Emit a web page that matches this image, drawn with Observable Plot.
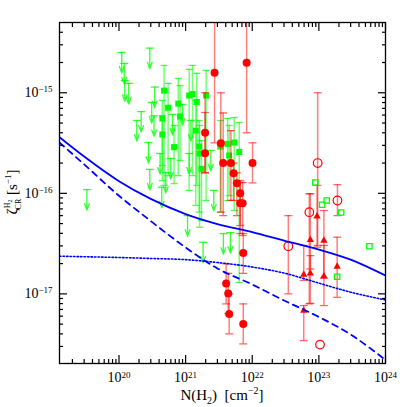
<!DOCTYPE html>
<html><head><meta charset="utf-8">
<script src="https://cdn.jsdelivr.net/npm/d3@7"></script>
<script src="https://cdn.jsdelivr.net/npm/@observablehq/plot@0.6"></script>
<style>body{margin:0;background:#fff}</style>
</head><body><div id="chart"></div>
<script>
// ---- data ----
// green upper limits (value at top bar)
const greenLimN = [3.3e19,1.1e20,1.2e20,1.22e20,1.4e20,1.85e20,2.15e20,2.77e20,2.9e20,2.9e20,3.1e20,3.36e20,3.44e20,4.14e20,4.39e20,5.04e20,5.99e20,6.35e20,1.07e21,1.13e21,1.83e21,2.39e21,2.65e21,3.69e21,4.7e21,8.98e20,1.2e21];
const greenLimZ = [1.09e-16,2.52e-15,1.96e-15,1.32e-15,1.24e-15,5.3e-16,6.5e-16,3.2e-16,2.78e-15,1.73e-16,8.0e-16,5.9e-16,1.14e-15,2.49e-16,1.15e-16,1.61e-16,2.22e-16,6.1e-16,6.0e-17,2.49e-16,3.26e-17,2.67e-16,1.07e-16,3.98e-17,4.07e-17,7.65e-16,5.3e-16];
// green detections (filled squares)
const greenDetN = [4.75e20,5.46e20,4.47e20,4.47e20,6.71e20,7.76e20,8.26e20,1.13e21,1.27e21,1.47e21,1.42e21,1.6e21,1.62e21,1.73e21,2.03e21,3.32e21,4.27e21,4.51e21,5.36e21,6.38e21];
const greenDetZ = [1.05e-15,7.1e-16,5.55e-16,3.85e-16,2.88e-16,7.8e-16,5.8e-16,9.4e-16,9.7e-16,8.1e-16,4.2e-16,2.92e-16,2.49e-16,1.75e-16,9.4e-16,2.92e-16,3.1e-16,2.38e-16,3.2e-16,2.58e-16];
const greenDetHi = [1.87e-15,1.24e-15,8.4e-16,5.9e-16,4.73e-16,1.39e-15,1.18e-15,1.71e-15,1.87e-15,1.56e-15,8.4e-16,5.3e-16,4.73e-16,3.35e-16,1.67e-15,5.3e-16,5.55e-16,4.73e-16,5.68e-16,5.06e-16];
const greenDetLo = [1.2e-16,1.5e-16,1.89e-16,1.34e-16,1.25e-16,1.5e-16,2.12e-16,1.07e-16,1.5e-16,1.2e-16,7.57e-17,6.5e-17,4.6e-17,5.36e-17,8.48e-17,6.5e-17,8.48e-17,9.5e-17,6.75e-17,1.3e-17];
// green open squares
const greenOpenN = [8.85e22,1.12e23,1.31e23,2.16e23,5.74e23,1.88e23];
const greenOpenZ = [1.28e-16,7.69e-17,8.48e-17,6.44e-17,2.98e-17,1.48e-17];
// red filled circles
const redDotN = [1.96e21,1.96e21,2.72e21,8.24e21,3.38e21,3.66e21,4.78e21,5.25e21,5.89e21,6.6e21,6.6e21,7.18e21,1.01e22,7.33e21,4.06e21,4.36e21,4.51e21,7.33e21];
const redDotZ = [4.0e-16,2.5e-16,1.58e-15,1.99e-15,3.15e-16,2.0e-16,2.0e-16,1.58e-16,1.26e-16,1.0e-16,7.96e-17,7.96e-17,2.0e-16,2.55e-17,1.27e-17,1.01e-17,6.32e-18,5.02e-18];
const redDotHi = [1e-15,6.37e-16,8e-15,8e-15,1e-15,6.3e-16,4.2e-16,2.0e-16,1.6e-16,1.34e-16,1.28e-16,1.28e-16,3.18e-16,3.98e-17,1.99e-17,1.6e-17,1.0e-17,7.95e-18];
const redDotLo = [1.6e-16,1.6e-16,3.18e-16,4.0e-16,6.5e-17,6.0e-17,8.5e-17,8.5e-17,6.0e-17,4.79e-17,3.98e-17,3.8e-17,1.27e-16,1.6e-17,7.95e-18,6.37e-18,4.0e-18,3.18e-18];
// red open circles
const redOpenN = [9.6e22,7.19e22,1.9e23,3.48e22,1.04e23];
const redOpenZ = [2.0e-16,6.49e-17,8.48e-17,2.98e-17,3.13e-18];
const redOpenHi = [1e-15,9.9e-17,1.22e-16,6.0e-17,null];
const redOpenLo = [3.03e-17,7.95e-18,6.0e-17,1.0e-17,null];
// red triangles
const redTriN = [9.4e22,7.45e22,7.45e22,1.19e23,1.19e23,5.93e22,5.93e22,1.88e23];
const redTriZ = [5.91e-17,3.44e-17,1.6e-17,3.39e-17,1.5e-17,1.55e-17,6.82e-18,1.87e-17];
const redTriHi = [1.2e-16,9.9e-17,2.4e-17,6.75e-17,3.03e-17,3.03e-17,7.65e-18,3.66e-17];
const redTriLo = [2.91e-17,1.77e-17,8.05e-18,1.43e-17,7.65e-18,1.36e-17,3.43e-18,9.25e-18];
// model curves
const curveN = [1.28e19,3e19,1e20,3e20,1e21,3e21,1e22,3e22,1e23,3e23,1e24];
const solidZ = [3.61e-16,2.32e-16,1.32e-16,8.8e-17,6.22e-17,4.95e-17,4.12e-17,3.39e-17,2.76e-17,2.19e-17,1.52e-17];
const dashedZ = [3.2e-16,1.94e-16,9.46e-17,5.3e-17,2.89e-17,1.79e-17,1.24e-17,8.6e-18,5.89e-18,3.94e-18,2.2e-18];
const dottedZ = [2.37e-17,2.34e-17,2.30e-17,2.25e-17,2.19e-17,2.05e-17,1.85e-17,1.61e-17,1.28e-17,1.04e-17,8.7e-18];
// ticks
const xMajor = [1e20,1e21,1e22,1e23,1e24];
const yMajor = [1e-17,1e-16,1e-15];
const mult = [2,3,4,5,6,7,8,9];
const xDomain = [1.28e19, 1e24], yDomain = [2.03e-18, 5e-15];

// ---- build ----
const zip = (N, Z, Hi, Lo) => N.map((n, i) => ({N: n, Z: Z[i], Hi: Hi ? Hi[i] : null, Lo: Lo ? Lo[i] : null}));
const greenLim = zip(greenLimN, greenLimZ);
const greenDet = zip(greenDetN, greenDetZ, greenDetHi, greenDetLo);
const greenOpen = zip(greenOpenN, greenOpenZ);
const redDot = zip(redDotN, redDotZ, redDotHi, redDotLo);
const redOpen = zip(redOpenN, redOpenZ, redOpenHi, redOpenLo);
const redTri = zip(redTriN, redTriZ, redTriHi, redTriLo);
const curves = curveN.map((n, i) => ({N: n, s: solidZ[i], d: dashedZ[i], o: dottedZ[i]}));
const minors = (lo, hi, d0, d1) => { const out = []; for (let d = d0; d <= d1; d++) for (const m of mult) { const v = m * Math.pow(10, d); if (v > lo && v < hi) out.push(v); } return out; };
const xMinor = minors(...xDomain, 19, 23);
const yMinor = minors(...yDomain, -18, -15);

const hline = {draw(ctx, size) { const r = Math.sqrt(size / Math.PI); ctx.moveTo(-r, 0); ctx.lineTo(r, 0); }};
const G = "#00ff00", R = "#ff0000", B = "#0000ff";
const fmtExp = d => "10^" + String(Math.round(Math.log10(d))).replace("-", "−");
const blank = () => "";
const serif = "'Liberation Serif', 'DejaVu Serif', serif";

const tickAxes = [];
for (const a of ["bottom", "top"]) {
  tickAxes.push(Plot.axisX({ticks: xMajor, anchor: a, tickSize: -8, tickFormat: blank, label: null, strokeWidth: 1.2}));
  tickAxes.push(Plot.axisX({ticks: xMinor, anchor: a, tickSize: -4, tickFormat: blank, label: null, strokeWidth: 1.2}));
}
for (const a of ["left", "right"]) {
  tickAxes.push(Plot.axisY({ticks: yMajor, anchor: a, tickSize: -8, tickFormat: blank, label: null, strokeWidth: 1.2}));
  tickAxes.push(Plot.axisY({ticks: yMinor, anchor: a, tickSize: -4, tickFormat: blank, label: null, strokeWidth: 1.2}));
}

const svg = Plot.plot({
  width: 407, height: 407,
  marginLeft: 59, marginRight: 22, marginTop: 22, marginBottom: 44,
  x: {type: "log", domain: xDomain},
  y: {type: "log", domain: yDomain},
  style: {fontFamily: serif, fontSize: "14px", color: "black", background: "white"},
  marks: [
    // error bars
    Plot.ruleX(greenDet, {x: "N", y1: "Lo", y2: "Hi", stroke: G, strokeOpacity: 0.55, strokeWidth: 1.5, clip: true}),
    Plot.dot(greenDet, {x: "N", y: "Hi", symbol: hline, r: 3.5, stroke: G, strokeOpacity: 0.7, strokeWidth: 1.3, clip: true}),
    Plot.dot(greenDet, {x: "N", y: "Lo", symbol: hline, r: 3.5, stroke: G, strokeOpacity: 0.7, strokeWidth: 1.3, clip: true}),
    Plot.arrow(greenLim, {x1: "N", y1: "Z", x2: "N", y2: d => d.Z / 1.6, stroke: G, strokeOpacity: 0.8, strokeWidth: 1.3, headAngle: 40, headLength: 11}),
    Plot.dot(greenLim, {x: "N", y: "Z", symbol: hline, r: 4, stroke: G, strokeOpacity: 0.8, strokeWidth: 1.3}),
    Plot.dot(greenDet, {x: "N", y: "Z", symbol: "square", r: 3.4, fill: G}),
    Plot.ruleX(redDot, {x: "N", y1: "Lo", y2: "Hi", stroke: R, strokeOpacity: 0.5, strokeWidth: 1.5, clip: true}),
    Plot.ruleX(redOpen.filter(d => d.Hi), {x: "N", y1: "Lo", y2: "Hi", stroke: R, strokeOpacity: 0.5, strokeWidth: 1.5, clip: true}),
    Plot.ruleX(redTri, {x: "N", y1: "Lo", y2: "Hi", stroke: R, strokeOpacity: 0.5, strokeWidth: 1.5, clip: true}),
    ...[redDot, redOpen.filter(d => d.Hi), redTri].flatMap(data => [
      Plot.dot(data, {x: "N", y: "Hi", symbol: hline, r: 4, stroke: R, strokeOpacity: 0.6, strokeWidth: 1.3, clip: true}),
      Plot.dot(data, {x: "N", y: "Lo", symbol: hline, r: 4, stroke: R, strokeOpacity: 0.6, strokeWidth: 1.3, clip: true})
    ]),
    Plot.dot(redDot, {x: "N", y: "Z", r: 4, fill: R}),
    Plot.dot(redOpen, {x: "N", y: "Z", r: 4.3, stroke: R, fill: "white", fillOpacity: 0, strokeWidth: 1.2}),
    Plot.dot(redTri, {x: "N", y: "Z", symbol: "triangle", r: 2.7, fill: R}),
    Plot.dot(greenOpen, {x: "N", y: "Z", symbol: "square", r: 3, stroke: G, fill: "none", strokeWidth: 1.3}),
    // model curves
    Plot.line(curves, {x: "N", y: "s", stroke: B, strokeWidth: 1.8, curve: "monotone-x", clip: true}),
    Plot.line(curves, {x: "N", y: "d", stroke: B, strokeWidth: 1.8, strokeDasharray: "6,5", curve: "monotone-x", clip: true}),
    Plot.line(curves, {x: "N", y: "o", stroke: B, strokeWidth: 1.6, strokeDasharray: "1.5,2", curve: "monotone-x", clip: true}),
    // frame and axes
    Plot.frame({stroke: "black", strokeWidth: 1.3}),
    ...tickAxes,
    Plot.axisX({ticks: xMajor, anchor: "bottom", tickSize: 0, tickPadding: 9, tickFormat: fmtExp, label: null, fontSize: 14}),
    Plot.axisY({ticks: yMajor, anchor: "left", tickSize: 0, tickPadding: 7, tickFormat: fmtExp, label: null, fontSize: 14})
  ]
});

const s = d3.select(svg);
s.selectAll("text").each(function () {
  const m = (this.textContent || "").match(/^10\^(.+)$/);
  if (!m) return;
  const el = d3.select(this);
  el.text("");
  el.append("tspan").text("10");
  el.append("tspan").attr("dy", "-0.55em").attr("font-size", "9px").text(m[1]);
});
// y-axis title
const yt = s.append("text").attr("transform", "translate(17,192) rotate(-90)")
  .attr("text-anchor", "middle").attr("font-family", serif).attr("font-size", 15).attr("fill", "black");
yt.append("tspan").text("ζ");
yt.append("tspan").attr("font-size", 8).attr("dy", -7).text("H");
yt.append("tspan").attr("font-size", 6).attr("dy", 2).text("2");
yt.append("tspan").attr("font-size", 8).attr("dx", -10).attr("dy", 9).text("CR");
yt.append("tspan").attr("dy", -4).text("\u00A0[s");
yt.append("tspan").attr("font-size", 9).attr("dy", -6).text("−1");
yt.append("tspan").attr("dy", 6).text("]");
// x-axis title
const xt = s.append("text").attr("x", 222).attr("y", 400)
  .attr("text-anchor", "middle").attr("font-family", serif).attr("font-size", 15).attr("fill", "black");
xt.append("tspan").text("N(H");
xt.append("tspan").attr("font-size", 10).attr("dy", 4).text("2");
xt.append("tspan").attr("dy", -4).text(")\u00A0\u00A0[cm");
xt.append("tspan").attr("font-size", 10).attr("dy", -6).text("−2");
xt.append("tspan").attr("dy", 6).text("]");

document.getElementById("chart").appendChild(svg);
</script>
</body></html>
